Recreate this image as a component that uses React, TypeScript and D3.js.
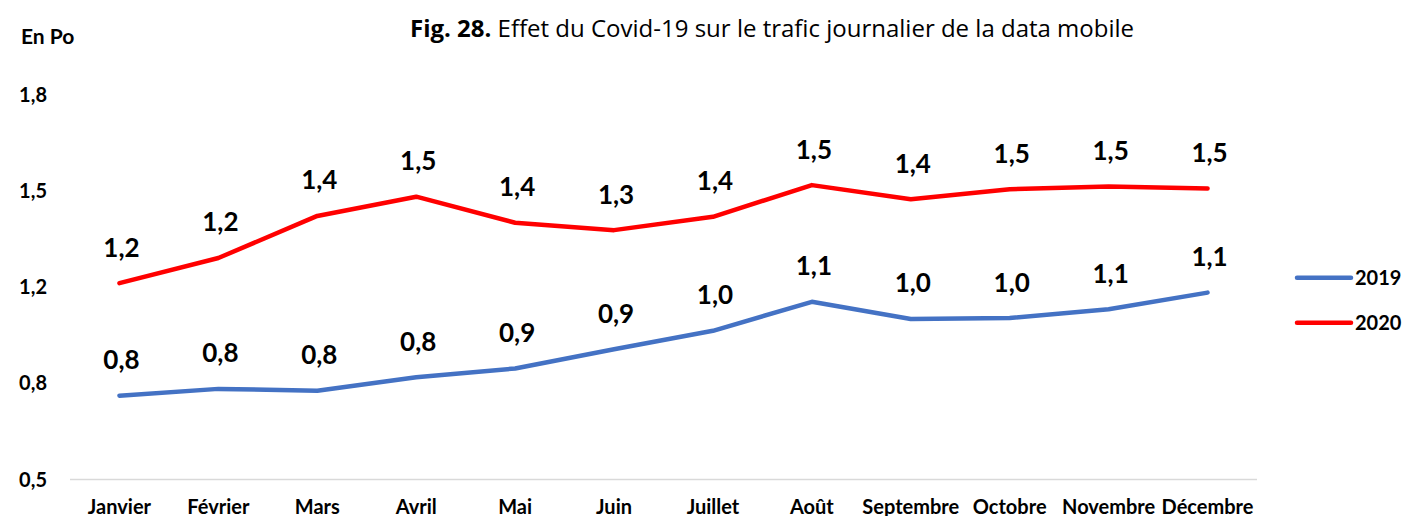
import React from 'react';
import { scaleBand, scaleLinear, line, format } from 'd3';

const width = 1407;
const height = 516;

const months = [
  'Janvier',
  'Février',
  'Mars',
  'Avril',
  'Mai',
  'Juin',
  'Juillet',
  'Août',
  'Septembre',
  'Octobre',
  'Novembre',
  'Décembre',
];
const values2019 = [0.783, 0.806, 0.8, 0.845, 0.875, 0.94, 1.002, 1.1, 1.042, 1.045, 1.075, 1.131];
const values2020 = [1.163, 1.248, 1.39, 1.455, 1.367, 1.342, 1.387, 1.494, 1.446, 1.48, 1.489, 1.483];
const yTicks = [0.5, 0.825, 1.15, 1.475, 1.8];
const yTickLabels = ['0,5', '0,8', '1,2', '1,5', '1,8'];

const series = [
  { name: '2019', values: values2019, color: '#4472C4' },
  { name: '2020', values: values2020, color: '#FF0000' },
];

const font = 'Lato, Calibri, sans-serif';
const fmt = (v: number) => format('.1f')(v).replace('.', ',');

const App = () => {
  const xScale = scaleBand().domain(months).range([70, 1257]);
  const yScale = scaleLinear().domain([0.5, 1.8]).range([479.5, 94.5]);
  const cx = (m: string) => (xScale(m) as number) + xScale.bandwidth() / 2;

  const pathOf = line<number>()
    .x((_, i) => cx(months[i]))
    .y((d) => yScale(d));

  return (
    <svg
      width={width}
      height={height}
      style={{ position: 'absolute', left: 0, top: 0, background: '#fff' }}
      fontFamily={font}
    >
      <rect width={width} height={height} fill="#fff" />
      <text
        x={772}
        y={37}
        textAnchor="middle"
        fontSize={24}
        fontFamily="'Open Sans', sans-serif"
        fill="#000"
      >
        <tspan fontWeight="bold">Fig. 28.</tspan> Effet du Covid-19 sur le trafic journalier de la data mobile
      </text>
      <text x={21} y={44} fontSize={21} fontWeight="bold" fill="#000">
        En Po
      </text>

      {yTicks.map((t, i) => (
        <text
          key={t}
          x={47}
          y={yScale(t)}
          dy="0.36em"
          textAnchor="end"
          fontSize={20}
          fontWeight="bold"
          fill="#000"
        >
          {yTickLabels[i]}
        </text>
      ))}

      <line x1={70} x2={1257} y1={yScale(0.5)} y2={yScale(0.5)} stroke="#d9d9d9" strokeWidth={1.5} />

      {months.map((m) => (
        <text key={m} x={cx(m)} y={513.5} textAnchor="middle" fontSize={20} fontWeight="bold" fill="#000">
          {m}
        </text>
      ))}

      {series.map((s) => (
        <path
          key={s.name}
          d={pathOf(s.values) || ''}
          fill="none"
          stroke={s.color}
          strokeWidth={4.5}
          strokeLinecap="round"
          strokeLinejoin="round"
        />
      ))}

      {series.map((s) =>
        s.values.map((v, i) => (
          <text
            key={s.name + months[i]}
            x={cx(months[i]) + 2}
            y={yScale(v) - 26.5}
            textAnchor="middle"
            fontSize={26}
            fontWeight="bold"
            fill="#000"
          >
            {fmt(v)}
          </text>
        ))
      )}

      {series.map((s, i) => (
        <g key={s.name} transform={`translate(1297,${277.7 + i * 45})`}>
          <line x1={0} x2={54} stroke={s.color} strokeWidth={4.5} strokeLinecap="round" />
          <text x={58} y={0} dy="0.36em" fontSize={20} fontWeight="bold" fill="#000">
            {s.name}
          </text>
        </g>
      ))}
    </svg>
  );
};

export default App;
